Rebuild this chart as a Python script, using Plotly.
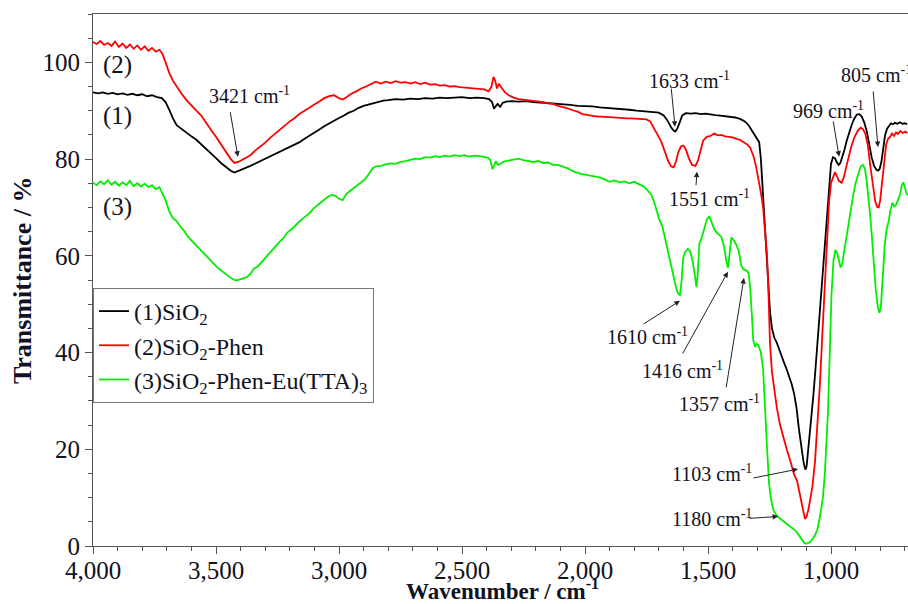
import plotly.graph_objects as go

# ---------------- data ----------------
black_wn = [4000, 3980, 3960, 3940, 3920, 3900, 3880, 3860, 3840, 3820, 3800, 3780, 3760, 3740, 3720, 3705, 3690, 3675,
            3660, 3640, 3620, 3600, 3580, 3560, 3540, 3520, 3500, 3480, 3460, 3440, 3425, 3410, 3395, 3380, 3360, 3340,
            3320, 3300, 3280, 3260, 3240, 3220, 3200, 3180, 3160, 3140, 3120, 3100, 3080, 3060, 3040, 3020, 3000, 2980,
            2960, 2940, 2920, 2900, 2880, 2860, 2840, 2820, 2800, 2770, 2740, 2710, 2680, 2650, 2620, 2590, 2560, 2530,
            2500, 2470, 2440, 2410, 2390, 2378, 2370, 2362, 2355, 2345, 2335, 2320, 2300, 2270, 2240, 2210, 2180, 2150,
            2120, 2090, 2060, 2030, 2000, 1970, 1940, 1910, 1880, 1850, 1820, 1790, 1760, 1730, 1700, 1680, 1665, 1650,
            1640, 1633, 1625, 1615, 1605, 1590, 1570, 1550, 1530, 1510, 1490, 1470, 1450, 1430, 1410, 1390, 1370, 1350,
            1335, 1320, 1310, 1300, 1292, 1285, 1278, 1270, 1262, 1255, 1248, 1240, 1230, 1220, 1210, 1200, 1190, 1180,
            1170, 1160, 1150, 1140, 1130, 1120, 1112, 1106, 1103, 1099, 1094, 1088, 1080, 1072, 1064, 1056, 1048, 1040,
            1032, 1024, 1016, 1008, 1000, 992, 984, 976, 969, 962, 955, 945, 935, 925, 915, 905, 895, 885, 875, 865, 855,
            845, 835, 825, 815, 808, 802, 795, 788, 780, 772, 764, 756, 748, 740, 730, 720, 710, 700, 690]
black_t = [93.8, 93.6, 93.8, 93.5, 93.7, 93.4, 93.6, 93.3, 93.5, 93.2, 93.4, 93.0, 93.2, 92.8, 92.6, 91.8, 90.2, 88.4,
           87.0, 86.2, 85.4, 84.7, 84.0, 83.1, 82.2, 81.2, 80.2, 79.2, 78.4, 77.6, 77.2, 77.5, 77.9, 78.2, 78.6, 79.1,
           79.6, 80.1, 80.5, 81.0, 81.6, 82.1, 82.6, 83.0, 83.5, 84.2, 84.8, 85.5, 86.1, 86.8, 87.4, 87.9, 88.5, 89.0,
           89.6, 90.0, 90.6, 91.0, 91.3, 91.6, 91.9, 92.1, 92.2, 92.4, 92.3, 92.5, 92.4, 92.6, 92.5, 92.7, 92.6, 92.7,
           92.8, 92.6, 92.7, 92.6, 92.4, 91.8, 90.4, 91.0, 91.4, 90.8, 91.6, 91.9, 92.0, 91.9, 92.0, 91.8, 91.7, 91.6,
           91.5, 91.3, 91.2, 91.0, 91.0, 90.9, 90.7, 90.6, 90.5, 90.3, 90.2, 90.0, 89.9, 89.8, 89.6, 89.0, 88.0, 86.6,
           85.9, 85.7, 86.3, 87.6, 89.0, 89.5, 89.4, 89.5, 89.3, 89.4, 89.2, 89.1, 89.0, 88.9, 88.7, 88.6, 88.3, 87.8,
           87.0, 85.8, 85.0, 84.4, 83.5, 80.0, 74.0, 66.0, 58.0, 53.5, 48.5, 45.0, 43.0, 42.0, 40.5, 39.0, 37.8, 36.5,
           35.0, 33.5, 31.5, 28.5, 24.0, 20.0, 17.5, 16.1, 15.8, 16.5, 19.0, 22.5, 27.0, 31.0, 36.0, 41.5, 46.5, 52.0,
           58.0, 64.0, 69.0, 74.5, 79.0, 80.4, 80.2, 79.3, 78.8, 79.2, 80.2, 82.0, 84.0, 85.8, 87.2, 88.4, 89.2, 89.3,
           88.8, 87.6, 85.8, 83.2, 80.4, 78.6, 77.8, 77.6, 78.0, 79.5, 82.5, 85.0, 86.3, 86.9, 87.4, 87.2, 87.5, 87.3,
           87.6, 87.3, 87.4, 87.2]

red_wn = [4000, 3985, 3970, 3955, 3940, 3925, 3910, 3895, 3880, 3865, 3850, 3835, 3820, 3805, 3790, 3775, 3760, 3745,
          3730, 3718, 3705, 3690, 3675, 3660, 3640, 3620, 3600, 3580, 3560, 3540, 3520, 3500, 3480, 3460, 3440, 3425,
          3410, 3395, 3380, 3360, 3340, 3320, 3300, 3280, 3260, 3240, 3220, 3200, 3180, 3160, 3140, 3120, 3100, 3080,
          3060, 3040, 3020, 3000, 2985, 2970, 2950, 2930, 2910, 2890, 2870, 2850, 2830, 2810, 2790, 2770, 2750, 2730,
          2710, 2690, 2670, 2650, 2630, 2610, 2590, 2570, 2550, 2530, 2510, 2490, 2470, 2450, 2430, 2410, 2392, 2380,
          2372, 2365, 2358, 2350, 2340, 2325, 2310, 2290, 2270, 2250, 2230, 2210, 2190, 2170, 2150, 2130, 2110, 2090,
          2070, 2050, 2030, 2010, 1990, 1970, 1950, 1930, 1910, 1890, 1870, 1850, 1830, 1810, 1790, 1770, 1750, 1735,
          1720, 1705, 1690, 1675, 1662, 1650, 1640, 1630, 1620, 1610, 1600, 1590, 1578, 1565, 1551, 1540, 1530, 1520,
          1505, 1490, 1475, 1460, 1445, 1430, 1415, 1400, 1385, 1370, 1355, 1340, 1328, 1315, 1305, 1295, 1285, 1276,
          1268, 1260, 1254, 1248, 1240, 1230, 1220, 1207, 1195, 1180, 1165, 1150, 1138, 1128, 1118, 1110, 1106, 1100,
          1092, 1085, 1075, 1065, 1055, 1045, 1035, 1024, 1016, 1008, 1000, 992, 984, 976, 968, 957, 948, 938, 928, 918,
          905, 892, 880, 870, 860, 850, 840, 830, 820, 812, 806, 800, 792, 784, 776, 768, 760, 752, 744, 736, 728, 718,
          708, 698, 690]
red_t = [104.2, 103.8, 104.4, 103.6, 104.0, 103.4, 104.3, 103.2, 103.9, 103.0, 103.7, 102.8, 103.5, 102.6, 103.3, 102.4,
         103.0, 102.2, 102.6, 101.8, 100.0, 97.8, 96.2, 95.0, 93.5, 92.2, 91.0, 90.0, 89.0, 87.4, 86.0, 84.6, 83.0, 81.4,
         80.0, 79.2, 79.4, 79.8, 80.3, 80.8, 81.8, 82.6, 83.4, 84.4, 85.3, 86.0, 86.9, 87.8, 88.5, 89.4, 90.0, 90.7,
         91.3, 91.9, 92.6, 93.0, 93.2, 92.6, 92.3, 92.8, 93.5, 94.0, 94.6, 95.0, 95.5, 96.0, 95.6, 96.0, 95.7, 96.1,
         95.8, 95.9, 95.6, 95.9, 95.5, 95.8, 95.4, 95.5, 95.2, 95.3, 95.0, 95.1, 94.9, 94.8, 94.7, 94.6, 94.5, 94.4,
         94.0, 95.0, 97.0, 96.2, 94.6, 95.6, 94.8, 93.8, 93.2, 92.7, 92.4, 92.3, 92.2, 92.0, 91.9, 91.8, 91.5, 91.4,
         91.0, 90.8, 90.5, 90.1, 89.8, 89.3, 89.1, 88.9, 88.8, 88.8, 88.7, 88.6, 88.6, 88.5, 88.4, 88.4, 88.3, 88.2,
         88.2, 87.8, 86.5, 85.2, 83.6, 81.5, 79.6, 78.5, 78.3, 79.5, 81.5, 82.6, 82.8, 82.0, 80.2, 78.8, 78.6, 79.8,
         82.0, 83.8, 84.6, 84.8, 85.3, 84.9, 85.0, 84.7, 84.6, 84.5, 84.2, 84.0, 83.5, 83.0, 82.3, 80.6, 78.6, 76.0,
         73.0, 70.0, 65.0, 60.0, 52.0, 42.0, 36.0, 32.0, 28.5, 25.0, 22.5, 20.0, 17.5, 14.8, 13.5, 11.0, 8.0, 6.2, 5.6,
         6.0, 7.5, 9.5, 12.5, 17.5, 25.0, 33.5, 44.0, 54.4, 64.0, 71.0, 75.0, 76.4, 77.3, 76.5, 75.5, 75.1, 76.2, 78.4,
         80.6, 82.5, 84.5, 85.8, 86.5, 86.2, 85.2, 82.8, 78.5, 74.2, 71.2, 70.1, 70.0, 71.5, 75.5, 80.0, 83.0, 84.2,
         84.6, 85.3, 84.8, 85.5, 85.2, 85.8, 85.4, 85.7, 85.4]

green_wn = [4000, 3985, 3970, 3955, 3940, 3925, 3910, 3895, 3880, 3865, 3850, 3835, 3820, 3805, 3790, 3775, 3760, 3745,
            3730, 3718, 3705, 3690, 3675, 3660, 3645, 3630, 3615, 3600, 3585, 3570, 3555, 3540, 3525, 3510, 3495, 3480,
            3465, 3450, 3435, 3420, 3405, 3390, 3375, 3360, 3345, 3330, 3315, 3300, 3285, 3270, 3255, 3240, 3225, 3210,
            3195, 3180, 3165, 3150, 3135, 3120, 3105, 3090, 3075, 3060, 3045, 3030, 3015, 3000, 2985, 2970, 2955, 2940,
            2925, 2910, 2895, 2880, 2865, 2850, 2830, 2810, 2790, 2770, 2750, 2730, 2710, 2690, 2670, 2650, 2630, 2610,
            2590, 2570, 2550, 2530, 2510, 2490, 2470, 2450, 2430, 2410, 2395, 2385, 2376, 2370, 2362, 2355, 2345, 2330,
            2310, 2290, 2270, 2250, 2230, 2210, 2190, 2170, 2150, 2130, 2110, 2090, 2070, 2050, 2035, 2020, 2000, 1980,
            1960, 1940, 1920, 1900, 1880, 1860, 1840, 1820, 1800, 1780, 1760, 1745, 1730, 1715, 1700, 1685, 1670, 1655,
            1640, 1630, 1622, 1614, 1607, 1601, 1593, 1582, 1573, 1563, 1555, 1547, 1542, 1535, 1525, 1515, 1505, 1495,
            1485, 1475, 1465, 1455, 1445, 1435, 1426, 1419, 1412, 1405, 1395, 1385, 1375, 1365, 1357, 1345, 1335, 1328,
            1322, 1316, 1309, 1302, 1295, 1285, 1276, 1268, 1260, 1252, 1244, 1235, 1220, 1205, 1190, 1175, 1160, 1145,
            1130, 1118, 1108, 1098, 1085, 1075, 1065, 1055, 1045, 1033, 1025, 1018, 1012, 1005, 998, 990, 982, 975, 968,
            961, 955, 948, 940, 930, 920, 910, 900, 890, 880, 870, 862, 855, 848, 840, 833, 826, 818, 810, 803, 797, 790,
            782, 774, 766, 758, 750, 743, 736, 728, 720, 712, 706, 700, 694, 688]
green_t = [75.1, 74.6, 75.4, 74.8, 75.6, 74.7, 75.3, 74.5, 75.2, 74.6, 75.5, 74.4, 75.0, 74.3, 74.9, 74.2, 74.6, 73.8,
           74.2, 73.0, 71.5, 69.2, 67.8, 67.2, 66.0, 65.2, 64.0, 63.2, 62.4, 61.5, 60.8, 59.9, 59.0, 58.3, 57.6, 57.0,
           56.3, 55.8, 55.3, 54.9, 55.1, 55.4, 55.6, 56.3, 57.4, 57.8, 58.7, 59.5, 60.3, 61.3, 62.2, 63.0, 63.7, 64.8,
           65.4, 66.2, 66.8, 67.6, 68.2, 68.8, 69.7, 70.4, 71.0, 71.6, 72.2, 72.6, 72.4, 71.8, 71.5, 72.8, 73.4, 74.0,
           74.6, 75.2, 75.8, 76.8, 78.0, 78.5, 78.6, 78.9, 79.1, 79.0, 79.4, 79.6, 79.9, 80.1, 80.0, 80.4, 80.3, 80.6,
           80.4, 80.7, 80.5, 80.8, 80.6, 80.8, 80.5, 80.7, 80.6, 80.4, 80.3, 79.8, 77.9, 78.6, 79.6, 78.8, 79.0, 79.5,
           79.7, 79.9, 80.1, 79.8, 79.6, 79.4, 79.6, 79.2, 79.3, 78.8, 78.8, 78.4, 78.1, 77.5, 77.2, 77.0, 76.8, 76.6,
           76.4, 76.2, 75.8, 75.3, 75.6, 75.2, 75.4, 75.0, 75.3, 74.8, 74.3, 73.5, 72.6, 70.5, 67.8, 66.0, 62.5, 59.5,
           56.0, 53.5, 52.2, 51.9, 55.0, 59.5, 60.8, 61.4, 61.0, 59.0, 56.5, 53.5, 56.0, 62.5, 63.8, 65.5, 67.5, 68.2,
           66.8, 65.6, 64.8, 64.4, 63.8, 62.0, 59.0, 57.5, 60.5, 63.8, 63.2, 62.3, 61.0, 58.0, 57.2, 57.0, 56.5, 53.0,
           48.0, 42.5, 41.2, 41.8, 41.5, 40.0, 36.5, 27.0, 20.3, 13.0, 9.8, 7.5, 6.2, 5.6, 5.0, 4.3, 3.8, 3.2,
           2.2, 1.2, 0.6, 0.5, 0.8, 1.5, 2.2, 3.5, 6.0, 10.0, 15.0, 22.0, 28.0, 40.0, 52.0, 59.0, 61.2, 60.6, 58.8,
           57.6, 58.2, 60.5, 63.5, 66.5, 69.6, 72.5, 75.0, 77.0, 78.4, 78.8, 78.0, 75.5, 72.5, 68.0, 63.5, 58.5, 53.0,
           49.5, 48.2, 49.5, 55.0, 62.0, 65.5, 67.0, 69.5, 71.0, 70.2, 70.5, 71.5, 72.5, 74.6, 75.2, 74.2, 73.0, 72.5]

series_names = ["(1)SiO<sub>2</sub>", "(2)SiO<sub>2</sub>-Phen", "(3)SiO<sub>2</sub>-Phen-Eu(TTA)<sub>3</sub>"]
series_colors = ["#000000", "#ff0000", "#00ee00"]

x_tickvals = [1000, 1500, 2000, 2500, 3000, 3500, 4000]
y_tickvals = [0, 20, 40, 60, 80, 100]

# peak labels: (text, text_x, text_y)
peak_labels = [
    ("3421 cm<sup>-1</sup>", 3362, 93.3),
    ("1633 cm<sup>-1</sup>", 1577, 96.4),
    ("1551 cm<sup>-1</sup>", 1492, 71.9),
    ("969 cm<sup>-1</sup>", 1012, 90.2),
    ("805 cm<sup>-1</sup>", 815, 97.5),
    ("1610 cm<sup>-1</sup>", 1744, 43.4),
    ("1416 cm<sup>-1</sup>", 1602, 36.4),
    ("1357 cm<sup>-1</sup>", 1455, 29.5),
    ("1103 cm<sup>-1</sup>", 1484, 15.1),
    ("1180 cm<sup>-1</sup>", 1484, 5.7),
]
# arrows: (tail_x, tail_y, tip_x, tip_y)
peak_arrows = [
    (3443, 90.0, 3411, 80.5),
    (1650, 94.9, 1634, 86.7),
    (1549, 74.3, 1545, 77.4),
    (992, 88.1, 967, 80.5),
    (829, 94.3, 809, 82.5),
    (1768, 45.7, 1614, 50.7),
    (1606, 39.5, 1419, 56.7),
    (1427, 32.5, 1354, 55.4),
    (1321, 14.0, 1134, 15.9),
    (1337, 5.7, 1215, 6.1),
]
curve_labels = [("(2)", 3900, 99.5), ("(1)", 3900, 89.0), ("(3)", 3900, 70.0)]

x_title = "<b>Wavenumber / cm<sup>-1</sup></b>"
y_title = "<b>Transmittance / %</b>"

# ---------------- figure ----------------
FONT = "Liberation Serif"
TXT = "#111122"
fig = go.Figure()
for wn, t, name, col in zip([black_wn, red_wn, green_wn], [black_t, red_t, green_t], series_names, series_colors):
    fig.add_trace(go.Scatter(x=wn, y=t, mode="lines", name=name,
                             line=dict(color=col, width=1.8)))

annotations = []
for txt, x, y in peak_labels:
    annotations.append(dict(x=x, y=y, xref="x", yref="y", text=txt, showarrow=False,
                            font=dict(family=FONT, size=20, color=TXT)))
for tx, ty, hx, hy in peak_arrows:
    annotations.append(dict(x=hx, y=hy, xref="x", yref="y", ax=tx, ay=ty, axref="x", ayref="y",
                            text="", showarrow=True, arrowhead=2, arrowsize=1.1, arrowwidth=1,
                            arrowcolor="#222222", standoff=0, startstandoff=0))
for txt, x, y in curve_labels:
    annotations.append(dict(x=x, y=y, xref="x", yref="y", text=txt, showarrow=False,
                            font=dict(family=FONT, size=25, color=TXT)))
# axis titles
annotations.append(dict(x=0.503, y=-0.082, xref="paper", yref="paper", text=x_title, showarrow=False,
                        xanchor="center", yanchor="middle", font=dict(family=FONT, size=23, color=TXT)))
annotations.append(dict(x=-0.087, y=0.5, xref="paper", yref="paper", text=y_title, showarrow=False,
                        textangle=-90, xanchor="center", yanchor="middle",
                        font=dict(family=FONT, size=26, color=TXT)))

fig.update_layout(
    width=908, height=604,
    margin=dict(l=93, r=0, t=14, b=58),
    paper_bgcolor="white", plot_bgcolor="white",
    font=dict(family=FONT, color=TXT),
    showlegend=True,
    legend=dict(x=0, y=0.485, xanchor="left", yanchor="top",
                bordercolor="#777777", borderwidth=1, bgcolor="white",
                font=dict(family=FONT, size=24, color=TXT),
                tracegroupgap=0, itemwidth=30),
    annotations=annotations,
)
fig.update_xaxes(
    range=[4000, 687], tickvals=x_tickvals, tickformat=",", automargin=False,
    ticks="outside", ticklen=7, tickcolor="#555555", tickwidth=1, ticklabelstandoff=-5,
    minor=dict(dtick=100, ticks="outside", ticklen=4, tickcolor="#555555", showgrid=False),
    showline=True, linecolor="#555555", linewidth=1, mirror=True,
    showgrid=False, zeroline=False,
    tickfont=dict(family=FONT, size=25, color=TXT),
)
fig.update_yaxes(
    range=[0, 110], tickvals=y_tickvals, automargin=False,
    ticks="outside", ticklen=7, tickcolor="#555555", tickwidth=1,
    minor=dict(dtick=5, ticks="outside", ticklen=4, tickcolor="#555555", showgrid=False),
    showline=True, linecolor="#555555", linewidth=1, mirror=False,
    showgrid=False, zeroline=False,
    tickfont=dict(family=FONT, size=25, color=TXT),
)

fig.write_html("out.html", config={"displayModeBar": False},
               post_script="document.body.style.margin='0';document.body.style.padding='0';")
